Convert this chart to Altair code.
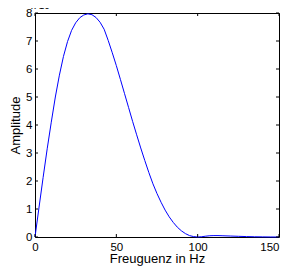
import altair as alt
import pandas as pd

# Data
freq = [0, 2.5, 5, 7.5, 10, 12.5, 15, 17.5, 20, 22.5, 25, 27.5, 30, 32.5, 35, 37.5,
        40, 42.5, 45, 47.5, 50, 52.5, 55, 57.5, 60, 62.5, 65, 67.5, 70, 72.5, 75,
        77.5, 80, 82.5, 85, 87.5, 90, 92.5, 95, 97.5, 100, 102.5, 105, 107.5, 110,
        112.5, 115, 120, 125, 130, 135, 140, 145, 150]
amp = [0, 1.07, 2.13, 3.15, 4.1, 5.0, 5.78, 6.45, 6.98, 7.38, 7.65, 7.83, 7.93, 7.97,
       7.94, 7.84, 7.67, 7.42, 7.02, 6.58, 6.12, 5.63, 5.13, 4.63, 4.13, 3.65, 3.18,
       2.73, 2.3, 1.9, 1.55, 1.24, 0.96, 0.72, 0.52, 0.35, 0.22, 0.12, 0.05, 0.015,
       0.0, 0.01, 0.03, 0.045, 0.05, 0.05, 0.045, 0.035, 0.025, 0.015, 0.008, 0.004,
       0.001, 0.0]
x_ticks = [0, 50, 100, 150]
y_ticks = [0, 1, 2, 3, 4, 5, 6, 7, 8]

title_text = "Schätzung des Spektrums"
x_title = "Freuguenz in Hz"
y_title = "Amplitude"

W, H = 244, 224
FONT = "Liberation Sans"

df = pd.DataFrame({"f": freq, "a": amp})
xt = pd.DataFrame({"v": x_ticks})
yt = pd.DataFrame({"v": y_ticks})

xscale = alt.Scale(domain=[0, 150], nice=False, zero=False)
yscale = alt.Scale(domain=[0, 8], nice=False, zero=False)

last_x = "datum.value == %d" % x_ticks[-1]

xaxis = alt.Axis(values=x_ticks, title=x_title, ticks=False, grid=False,
                 domain=False, labelPadding=4, titlePadding=0,
                 labelOverlap=False, labelFlush=False,
                 labelAlign={"condition": {"test": last_x, "value": "right"},
                             "value": "center"},
                 labelFontSize=11.5, titleFontSize=13, labelFont=FONT,
                 titleFont=FONT, titleFontWeight="normal",
                 labelColor="black", titleColor="black")
yaxis = alt.Axis(values=y_ticks, title=y_title, ticks=False, grid=False,
                 domain=False, labelPadding=3, titlePadding=3,
                 labelOverlap=False, labelFlush=False,
                 labelFontSize=11.5, titleFontSize=13, labelFont=FONT,
                 titleFont=FONT, titleFontWeight="normal",
                 labelColor="black", titleColor="black")

line = alt.Chart(df).mark_line(color="#0000ff", strokeWidth=1).encode(
    x=alt.X("f:Q", scale=xscale, axis=xaxis, title=x_title),
    y=alt.Y("a:Q", scale=yscale, axis=yaxis, title=y_title),
)

tick_style = dict(color="black", strokeWidth=1)
xb = alt.Chart(xt).mark_rule(**tick_style).encode(
    x=alt.X("v:Q", scale=xscale, axis=xaxis, title=x_title),
    y=alt.value(H), y2=alt.value(H - 3))
xtp = alt.Chart(xt).mark_rule(**tick_style).encode(
    x=alt.X("v:Q", scale=xscale, axis=xaxis, title=x_title),
    y=alt.value(0), y2=alt.value(3))
yl = alt.Chart(yt).mark_rule(**tick_style).encode(
    y=alt.Y("v:Q", scale=yscale, axis=yaxis, title=y_title),
    x=alt.value(0), x2=alt.value(3))
yr = alt.Chart(yt).mark_rule(**tick_style).encode(
    y=alt.Y("v:Q", scale=yscale, axis=yaxis, title=y_title),
    x=alt.value(W), x2=alt.value(W - 3))

expo = alt.Chart(pd.DataFrame({"t": ["x 10"]})).mark_text(
    align="left", baseline="bottom", fontSize=10, font=FONT, color="black"
).encode(text="t:N", x=alt.value(-4), y=alt.value(-2))

chart = alt.layer(line, xb, xtp, yl, yr, expo).properties(
    width=W, height=H,
    title=alt.Title(title_text, fontSize=13, font=FONT, fontWeight="normal",
                    color="black", offset=1, anchor="middle"),
    autosize=alt.AutoSizeParams(type="none"),
    padding={"left": 27, "top": 5, "right": 2, "bottom": 30},
).configure_view(stroke="black", strokeWidth=1)

chart.save("out.html", embed_options={"renderer": "svg", "actions": False})
